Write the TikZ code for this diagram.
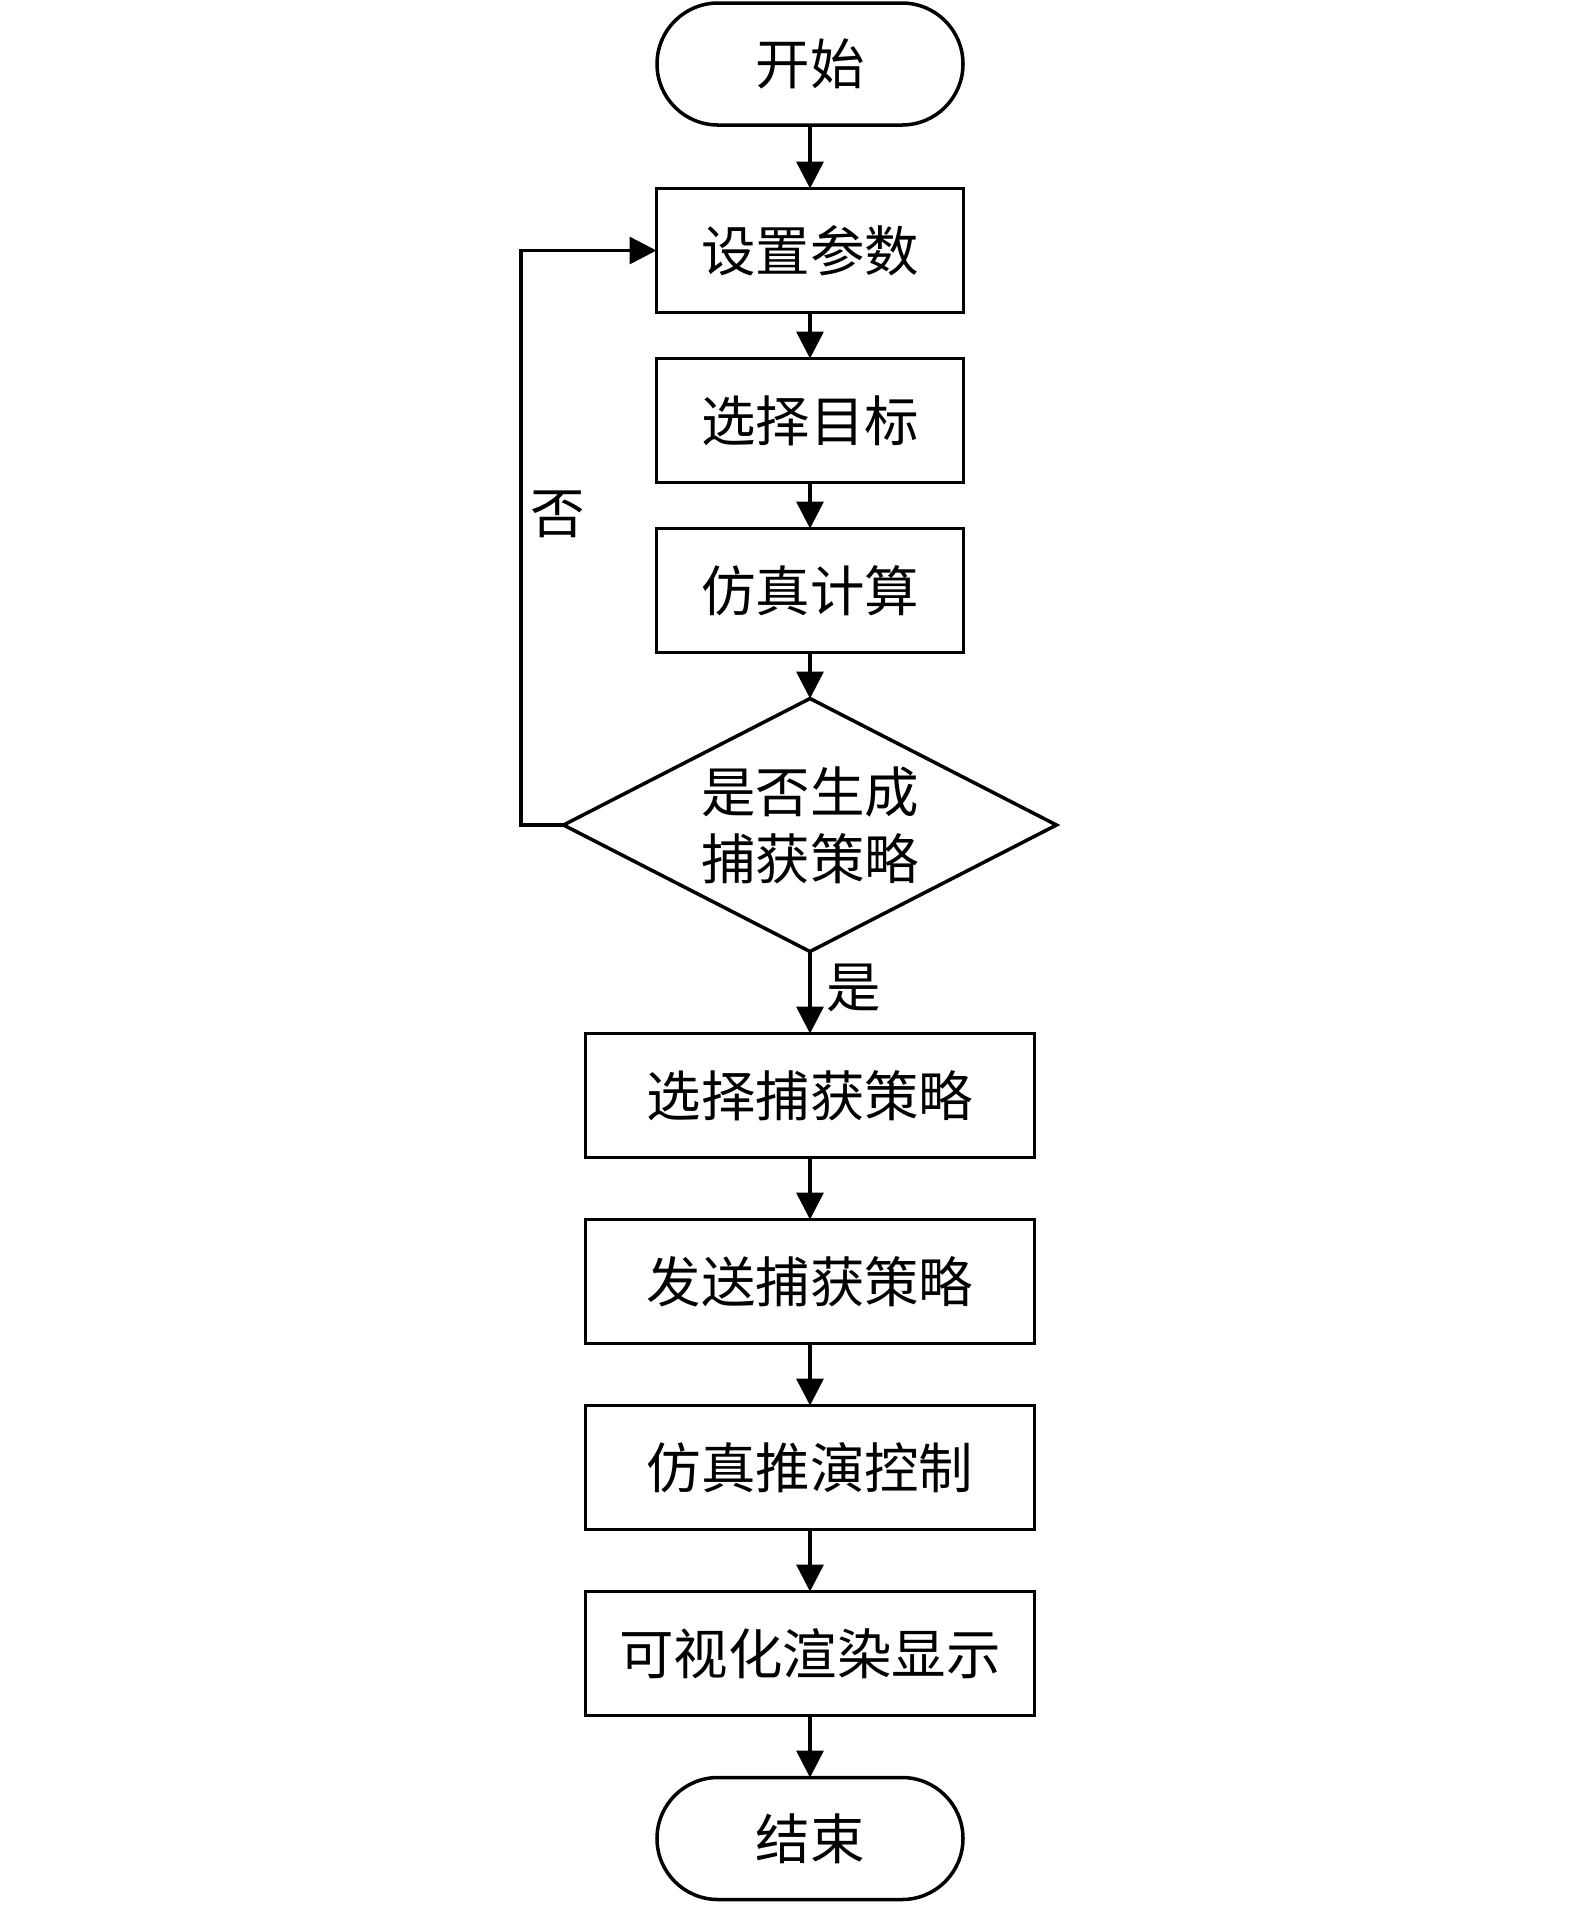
\documentclass[tikz,border=0pt]{standalone}
\usepackage{fontspec}
\setmainfont{Noto Sans CJK SC}
\usetikzlibrary{positioning,arrows.meta,shapes.geometric}

\begin{document}
\begin{tikzpicture}
  \newdimen\dist
  \dist=0.46cm
  \newdimen\wideDist
  \wideDist=0.62cm

  \tikzstyle{terminal} = [
    % The shape:
    rectangle, minimum height=1.22cm, minimum width=3.06cm, rounded corners=0.61cm,
    outer sep=0pt,
    % The border:
    line width=1pt,
    draw=black,
    % Font:
    font=\fontsize{15.5}{19}\selectfont
  ];
  \tikzstyle{process} = [
    % The shape:
    rectangle, minimum height=1.24cm, minimum width=3.07cm,
    outer sep=0pt,
    % The border:
    line width=1pt,
    draw=black,
    % Font:
    font=\fontsize{15.5}{19}\selectfont
  ];
  \tikzstyle{wideProcess} = [
    process,
    minimum width=4.49cm
  ];
  \tikzstyle{decision} = [
    % The shape:
    diamond, aspect=1.95, minimum width=4.93cm, minimum height=2.53cm, inner sep=0pt,
    outer sep=0pt,
    % The border:
    line width=1pt,
    draw=black,
    % Font:
    align=center,
    font=\fontsize{15.5}{19}\selectfont
  ];
  \tikzstyle{annotation} = [
    % Just text!
    font=\fontsize{15.5}{19}\selectfont
  ];
  \tikzstyle{flow} = [
    draw = black,
    line width=1pt,
    -{Triangle[length=0.27cm,width=0.27cm]}
  ];

  \useasboundingbox (0,0) rectangle (15.75,-19.07);

  \node [terminal] (start) at (8.10,-0.64) {开始};
  \node [process, below = 0.635cm of start] (setParams) {设置参数};
  \node [process, below = \dist of setParams] (selectTarget) {选择目标};
  \node [process, below = \dist of selectTarget] (simCalc) {仿真计算};
  \node [decision, below = \dist of simCalc] (strategyCheck) {是否生成\\捕获策略};

  \node [wideProcess, below = 0.82cm of strategyCheck] (selectStrategy) {选择捕获策略};
  \node [wideProcess, below = \wideDist of selectStrategy] (sendStrategy) {发送捕获策略};
  \node [wideProcess, below = \wideDist of sendStrategy] (deductionCtrl) {仿真推演控制};
  \node [wideProcess, below = \wideDist of deductionCtrl] (renderDisplay) {可视化渲染显示};
  \node [terminal, below = \wideDist of renderDisplay] (finish) {结束};

  \path [flow] (start) to (setParams);
  \path [flow] (setParams) to (selectTarget);
  \path [flow] (selectTarget) to (simCalc);
  \path [flow] (simCalc) to (strategyCheck);
  \path [flow] (strategyCheck) to node[annotation, right, pos=0.44, inner sep=0.15cm]{是} (selectStrategy);
  \path [flow] (selectStrategy) to (sendStrategy);
  \path [flow] (sendStrategy) to (deductionCtrl);
  \path [flow] (deductionCtrl) to (renderDisplay);
  \path [flow] (renderDisplay) to (finish);

  \path [flow] (strategyCheck.west) -- ++(-0.425,0)
                                    |- node[annotation, right, pos=0.27, inner sep=0.08cm]{否} (setParams.west);
\end{tikzpicture}
\end{document}
